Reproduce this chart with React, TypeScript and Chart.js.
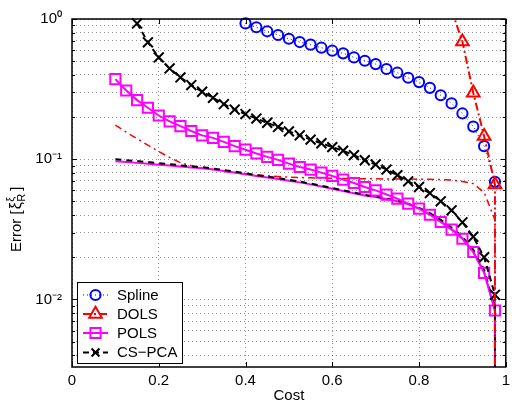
import React, { useEffect, useRef } from "react";
import { Chart, registerables } from "chart.js";

Chart.register(...registerables);

const FONT = '"Liberation Sans", Arial, Helvetica, sans-serif';

// ---------------- data ----------------
const splineCost = [0.4, 0.425, 0.45, 0.475, 0.5, 0.525, 0.55, 0.575, 0.6, 0.625, 0.65, 0.675, 0.7, 0.725, 0.75, 0.775, 0.8, 0.825, 0.85, 0.875, 0.9, 0.925, 0.95, 0.975, 0.975];
const splineErr = [0.93, 0.873, 0.817, 0.769, 0.723, 0.685, 0.656, 0.624, 0.594, 0.569, 0.532, 0.504, 0.477, 0.44, 0.414, 0.381, 0.355, 0.323, 0.286, 0.25, 0.212, 0.171, 0.124, 0.069, 0.0001];

const dolsCost = [0.875, 0.9, 0.925, 0.95, 0.975, 0.975];
const dolsErr = [1.16, 0.689, 0.298, 0.146, 0.066, 0.0001];

const polsCost = [0.1, 0.125, 0.15, 0.175, 0.2, 0.225, 0.25, 0.275, 0.3, 0.325, 0.35, 0.375, 0.4, 0.425, 0.45, 0.475, 0.5, 0.525, 0.55, 0.575, 0.6, 0.625, 0.65, 0.675, 0.7, 0.725, 0.75, 0.775, 0.8, 0.825, 0.85, 0.875, 0.9, 0.925, 0.95, 0.975, 0.975];
const polsErr = [0.373, 0.309, 0.264, 0.233, 0.205, 0.186, 0.172, 0.159, 0.148, 0.142, 0.133, 0.124, 0.117, 0.11, 0.104, 0.0989, 0.0931, 0.088, 0.0844, 0.0803, 0.076, 0.0716, 0.0677, 0.0634, 0.06, 0.056, 0.0524, 0.0482, 0.0444, 0.0402, 0.0357, 0.0315, 0.0271, 0.0218, 0.0155, 0.00834, 0.0001];

const pcaCost = [0.15, 0.175, 0.2, 0.225, 0.25, 0.275, 0.3, 0.325, 0.35, 0.375, 0.4, 0.425, 0.45, 0.475, 0.5, 0.525, 0.55, 0.575, 0.6, 0.625, 0.65, 0.675, 0.7, 0.725, 0.75, 0.775, 0.8, 0.825, 0.85, 0.875, 0.9, 0.925, 0.95, 0.975, 0.975];
const pcaErr = [0.93, 0.682, 0.532, 0.444, 0.383, 0.338, 0.303, 0.274, 0.247, 0.226, 0.21, 0.195, 0.182, 0.17, 0.158, 0.148, 0.138, 0.13, 0.122, 0.115, 0.107, 0.0984, 0.0917, 0.0844, 0.0769, 0.0696, 0.0634, 0.0574, 0.0501, 0.0432, 0.0355, 0.028, 0.02, 0.0108, 0.0001];

const modelCost = [0.1, 0.125, 0.15, 0.175, 0.2, 0.225, 0.25, 0.275, 0.3, 0.325, 0.35, 0.375, 0.4, 0.425, 0.45, 0.475, 0.5, 0.525, 0.55, 0.575, 0.6, 0.625, 0.65, 0.675, 0.7, 0.725, 0.75, 0.775, 0.8, 0.825, 0.85, 0.875, 0.9, 0.925, 0.95, 0.975, 0.975];
const dolsModelErr = [0.175, 0.156, 0.14, 0.126, 0.1135, 0.103, 0.0944, 0.09, 0.0869, 0.0844, 0.082, 0.08, 0.0785, 0.0773, 0.0762, 0.0753, 0.0746, 0.0741, 0.0737, 0.0734, 0.0731, 0.0729, 0.0727, 0.0726, 0.0725, 0.0724, 0.0723, 0.0722, 0.0721, 0.0719, 0.0716, 0.071, 0.0695, 0.067, 0.058, 0.037, 0.0001];
const pcaModelErr = [0.1, 0.0985, 0.097, 0.0955, 0.0937, 0.0922, 0.0905, 0.089, 0.0877, 0.0858, 0.0838, 0.0816, 0.0794, 0.0771, 0.0752, 0.0733, 0.0713, 0.0693, 0.067, 0.0647, 0.0623, 0.06, 0.0578, 0.0556, 0.0542, 0.0525, 0.0508, 0.0482, 0.045, 0.0413, 0.037, 0.0326, 0.028, 0.0226, 0.0163, 0.0087, 0.0001];
const polsModelErr = [0.0967, 0.0955, 0.0942, 0.0929, 0.0915, 0.0902, 0.0888, 0.0874, 0.0862, 0.0844, 0.0825, 0.0804, 0.0782, 0.076, 0.0741, 0.0722, 0.0703, 0.0684, 0.0662, 0.064, 0.0617, 0.0594, 0.0573, 0.0552, 0.0537, 0.052, 0.0502, 0.0477, 0.0445, 0.0405, 0.036, 0.0318, 0.0273, 0.0219, 0.0157, 0.0084, 0.0001];

const seriesLabels = ["Spline", "DOLS", "POLS", "CS\u2212PCA"];

const xTicks = [0, 0.2, 0.4, 0.6, 0.8, 1];
const xTickLabels = ["0", "0.2", "0.4", "0.6", "0.8", "1"];
const yMajorTicks = [0.01, 0.1, 1];
const yTickLabels = ["10\u207B\u00B2", "10\u207B\u00B9", "10\u2070"];
const yMinorTicks = [0.004, 0.005, 0.006, 0.007, 0.008, 0.009, 0.02, 0.03, 0.04, 0.05, 0.06, 0.07, 0.08, 0.09, 0.2, 0.3, 0.4, 0.5, 0.6, 0.7, 0.8, 0.9];
const Y_MIN = 0.0033;
const Y_MAX = 1;

// ---------------- styles ----------------
type Sty = { color: string; dash: number[]; width: number; marker: string; r: number; mw: number };
const STY: Sty[] = [
  { color: "#0000ff", dash: [1, 3], width: 1, marker: "circle", r: 5.1, mw: 2 },
  { color: "#ff0000", dash: [8, 3, 2, 3], width: 2, marker: "triangle", r: 7.3, mw: 2 },
  { color: "#ff00ff", dash: [], width: 2, marker: "rect", r: 7.2, mw: 2 },
  { color: "#000000", dash: [6, 4], width: 2, marker: "crossRot", r: 7, mw: 2 },
];

const pts = (xs: number[], ys: number[]) => xs.map((x, i) => ({ x, y: ys[i] }));
const visR = (r: number) => (c: any) => {
  const v = c && c.raw ? c.raw.y : NaN;
  return v >= Y_MIN && v <= Y_MAX ? r : 0;
};

function markerDs(label: string, data: any[], s: Sty, clipTop: number) {
  return {
    label,
    data,
    borderColor: s.color,
    backgroundColor: "rgba(0,0,0,0)",
    borderWidth: s.width,
    borderDash: s.dash,
    pointStyle: s.marker,
    pointRadius: visR(s.r),
    pointBorderWidth: s.mw,
    pointBorderColor: s.color,
    pointBackgroundColor: "rgba(0,0,0,0)",
    fill: false,
    tension: 0,
    clip: { left: 8, right: 8, top: clipTop, bottom: 0 },
  };
}

function modelDs(data: any[], color: string, dash: number[], width: number) {
  return {
    label: "",
    data,
    borderColor: color,
    backgroundColor: "rgba(0,0,0,0)",
    borderWidth: width,
    borderDash: dash,
    pointRadius: 0,
    fill: false,
    tension: 0,
    clip: { left: 0, right: 0, top: 0, bottom: 0 },
  };
}

function drawMarker(ctx: CanvasRenderingContext2D, kind: string, x: number, y: number, r: number, color: string, lw: number) {
  ctx.save();
  ctx.setLineDash([]);
  ctx.strokeStyle = color;
  ctx.lineWidth = lw;
  ctx.beginPath();
  if (kind === "circle") {
    ctx.arc(x, y, r, 0, Math.PI * 2);
  } else if (kind === "triangle") {
    const a = (Math.PI * 2) / 3;
    ctx.moveTo(x, y - r);
    ctx.lineTo(x + Math.sin(a) * r, y - Math.cos(a) * r);
    ctx.lineTo(x - Math.sin(a) * r, y - Math.cos(a) * r);
    ctx.closePath();
  } else if (kind === "rect") {
    const h = r * Math.SQRT1_2;
    ctx.rect(x - h, y - h, 2 * h, 2 * h);
  } else {
    const h = r * Math.SQRT1_2 * 0.8;
    ctx.moveTo(x - h, y - h);
    ctx.lineTo(x + h, y + h);
    ctx.moveTo(x + h, y - h);
    ctx.lineTo(x - h, y + h);
  }
  ctx.stroke();
  ctx.restore();
}

const framePlugin = {
  id: "frame",
  afterDatasetsDraw(chart: any) {
    const { ctx, chartArea: a, scales } = chart;
    ctx.save();
    ctx.setLineDash([]);
    ctx.strokeStyle = "#000";
    ctx.lineWidth = 1;
    ctx.beginPath();
    for (const t of xTicks) {
      const px = Math.round(scales.x.getPixelForValue(t)) + 0.5;
      ctx.moveTo(px, a.bottom);
      ctx.lineTo(px, a.bottom - 5);
      ctx.moveTo(px, a.top);
      ctx.lineTo(px, a.top + 5);
    }
    for (const t of yMajorTicks) {
      const py = Math.round(scales.y.getPixelForValue(t)) + 0.5;
      ctx.moveTo(a.left, py);
      ctx.lineTo(a.left + 5, py);
      ctx.moveTo(a.right, py);
      ctx.lineTo(a.right - 5, py);
    }
    for (const t of yMinorTicks) {
      const py = Math.round(scales.y.getPixelForValue(t)) + 0.5;
      ctx.moveTo(a.left, py);
      ctx.lineTo(a.left + 3, py);
      ctx.moveTo(a.right, py);
      ctx.lineTo(a.right - 3, py);
    }
    ctx.stroke();
    ctx.lineWidth = 1.5;
    ctx.strokeRect(a.left, a.top, a.right - a.left, a.bottom - a.top);
    ctx.restore();
  },
  afterDraw(chart: any) {
    const { ctx } = chart;
    // legend
    ctx.save();
    const bx = 77, by = 282, bw = 105, bh = 81;
    ctx.fillStyle = "#fff";
    ctx.fillRect(bx, by, bw, bh);
    ctx.strokeStyle = "#000";
    ctx.lineWidth = 1;
    ctx.setLineDash([]);
    ctx.strokeRect(bx + 0.5, by + 0.5, bw, bh);
    const rows = [295, 314, 333, 352.5];
    seriesLabels.forEach((lab, i) => {
      const s = STY[i];
      const y = rows[i];
      ctx.save();
      ctx.strokeStyle = s.color;
      ctx.lineWidth = s.width;
      ctx.setLineDash(s.dash);
      ctx.beginPath();
      ctx.moveTo(83, y);
      ctx.lineTo(108, y);
      ctx.stroke();
      ctx.restore();
      drawMarker(ctx, s.marker, 95.5, y, s.r, s.color, s.mw);
      ctx.fillStyle = "#000";
      ctx.font = `15px ${FONT}`;
      ctx.textAlign = "left";
      ctx.textBaseline = "middle";
      ctx.fillText(lab, 117, y + 0.5);
    });
    ctx.restore();

    // y axis title
    ctx.save();
    ctx.translate(21, 252);
    ctx.rotate(-Math.PI / 2);
    ctx.fillStyle = "#000";
    ctx.textAlign = "left";
    ctx.textBaseline = "alphabetic";
    ctx.font = `15px ${FONT}`;
    let x = 0;
    const t1 = "Error [";
    ctx.fillText(t1, x, 0);
    x += ctx.measureText(t1).width + 1;
    ctx.font = `16px ${FONT}`;
    ctx.fillText("\u03BE", x, 0);
    x += ctx.measureText("\u03BE").width + 0.5;
    ctx.font = `11px ${FONT}`;
    ctx.fillText("R", x, 4);
    ctx.fillText("\u03BE", x, -7.5);
    x += Math.max(ctx.measureText("R").width, ctx.measureText("\u03BE").width) + 3;
    ctx.font = `15px ${FONT}`;
    ctx.fillText("]", x, 0);
    ctx.restore();
  },
};

export default function App() {
  const ref = useRef<HTMLCanvasElement>(null);
  useEffect(() => {
    if (!ref.current) return;
    const datasets: any[] = [
      markerDs(seriesLabels[1], pts(dolsCost, dolsErr), STY[1], 0),
      markerDs(seriesLabels[0], pts(splineCost, splineErr), STY[0], 6),
      markerDs(seriesLabels[3], pts(pcaCost, pcaErr), STY[3], 6),
      markerDs(seriesLabels[2], pts(polsCost, polsErr), STY[2], 6),
      modelDs(pts(modelCost, pcaModelErr), "#000000", [6, 5], 2),
      modelDs(pts(modelCost, polsModelErr), "#ff00ff", [], 2),
      modelDs(pts(modelCost, dolsModelErr), "#ff0000", [7, 4, 2, 4], 1.5),
    ];
    const chart = new Chart(ref.current, {
      type: "line",
      data: { datasets },
      options: {
        responsive: false,
        animation: false,
        devicePixelRatio: 1,
        layout: { padding: { left: 0, top: 19, right: 2, bottom: 0 } },
        plugins: { legend: { display: false }, tooltip: { enabled: false } },
        scales: {
          x: {
            type: "linear",
            min: 0,
            max: 1,
            afterBuildTicks: (s: any) => {
              s.ticks = xTicks.map((v) => ({ value: v }));
            },
            afterFit: (s: any) => {
              s.height = 35;
              s.paddingLeft = 0;
              s.paddingRight = 0;
            },
            ticks: {
              autoSkip: false,
              maxRotation: 0,
              padding: 5,
              color: "#000",
              font: { family: FONT, size: 15 },
              callback: (_v: any, i: number) => xTickLabels[i],
            },
            grid: { color: "rgba(0,0,0,0.42)", lineWidth: 1, drawTicks: false },
            border: { display: false, dash: [1, 3] },
            title: {
              display: true,
              text: "Cost",
              color: "#000",
              font: { family: FONT, size: 15 },
              padding: { top: 0, bottom: -3 },
            },
          },
          y: {
            type: "logarithmic",
            min: Y_MIN,
            max: Y_MAX,
            afterBuildTicks: (s: any) => {
              s.ticks = [...yMinorTicks, ...yMajorTicks].sort((a, b) => a - b).map((v) => ({ value: v }));
            },
            afterFit: (s: any) => {
              s.width = 72;
              s.paddingTop = 0;
              s.paddingBottom = 0;
            },
            ticks: {
              autoSkip: false,
              padding: 10,
              color: "#000",
              font: { family: FONT, size: 15 },
              callback: (v: any) => {
                const i = yMajorTicks.indexOf(Number(v));
                return i >= 0 ? yTickLabels[i] : "";
              },
            },
            grid: { color: "rgba(0,0,0,0.42)", lineWidth: 1, drawTicks: false },
            border: { display: false, dash: [1, 3] },
          },
        },
      },
      plugins: [framePlugin],
    } as any);
    return () => chart.destroy();
  }, []);
  return (
    <div style={{ position: "fixed", left: 0, top: 0, width: 515, height: 402, background: "#fff" }}>
      <canvas ref={ref} width={515} height={402} style={{ display: "block", width: 515, height: 402 }} />
    </div>
  );
}
